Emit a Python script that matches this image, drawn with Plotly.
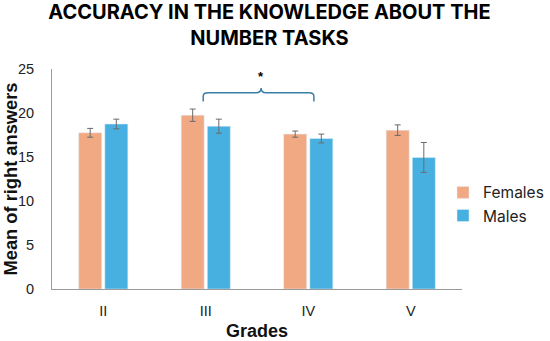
import plotly.graph_objects as go

grades = ["II", "III", "IV", "V"]
females = [17.75, 19.75, 17.6, 18.05]
females_err = [0.5, 0.7, 0.35, 0.6]
males = [18.75, 18.5, 17.1, 14.95]
males_err = [0.55, 0.8, 0.5, 1.7]

c_f = "#F1A983"
c_m = "#47B0E0"
err_col = "#6b6b6b"

fig = go.Figure()
fig.add_trace(go.Bar(x=grades, y=females, name="Females", marker_color=c_f,
                     error_y=dict(type="data", array=females_err, color=err_col, thickness=1, width=3)))
fig.add_trace(go.Bar(x=grades, y=males, name="Males", marker_color=c_m,
                     error_y=dict(type="data", array=males_err, color=err_col, thickness=1, width=3)))

def px_idx(i):
    return (i + 0.5) / len(grades)

xl, xr, xm = px_idx(0.975), px_idx(2.055), px_idx(1.54)
yh, ye, yt = 22.3, 21.3, 22.85
r = 0.012
path = (f"M {xl} {ye} L {xl} {yh-0.4} Q {xl} {yh} {xl+r} {yh} "
        f"L {xm-r} {yh} Q {xm} {yh} {xm} {yt} Q {xm} {yh} {xm+r} {yh} "
        f"L {xr-r} {yh} Q {xr} {yh} {xr} {yh-0.4} L {xr} {ye}")
fig.add_shape(type="path", path=path, xref="paper", yref="y",
              line=dict(color="#3C7DA6", width=1.5))
fig.add_annotation(x=xm, y=24.1, xref="paper", yref="y", text="<b>*</b>", showarrow=False,
                   font=dict(size=13, color="black", family="Liberation Sans"))

fig.update_layout(
    width=550, height=341,
    margin=dict(l=52, r=88, t=69, b=52, autoexpand=False),
    paper_bgcolor="white", plot_bgcolor="white",
    barmode="group", bargap=0.49, bargroupgap=0.12,
    title=dict(text="<b>ACCURACY IN THE KNOWLEDGE ABOUT THE<br>NUMBER TASKS</b>",
               x=0.49, xanchor="center", xref="container", yref="container",
               y=0.943, yanchor="top",
               font=dict(family="Inter", size=20, color="black")),
    font=dict(family="Liberation Sans", size=13, color="#333333"),
    legend=dict(x=(443 - 52) / 410, xanchor="left", y=0.385, yanchor="middle",
                font=dict(family="Inter", size=15.5, color="#222222"),
                itemwidth=30, tracegroupgap=2, bgcolor="rgba(0,0,0,0)"),
    xaxis=dict(showline=True, linecolor="#9a9a9a", linewidth=1, ticks="",
               tickfont=dict(size=14.5, color="#222222"), ticklabelstandoff=9,
               title=dict(text="<b>Grades</b>", font=dict(family="Liberation Sans", size=18, color="#111111"), standoff=10)),
    yaxis=dict(range=[0, 25], dtick=5, showline=True, linecolor="#9a9a9a", linewidth=1,
               showgrid=False, zeroline=False, ticks="",
               tickfont=dict(size=14.5, color="#222222"), ticklabelstandoff=14,
               title=dict(text="<b>Mean of right answers</b>", font=dict(family="Liberation Sans", size=18.3, color="#111111"), standoff=0)),
)

fig.write_html("out.html", config={"displayModeBar": False},
               post_script="document.body.style.margin='0';")
